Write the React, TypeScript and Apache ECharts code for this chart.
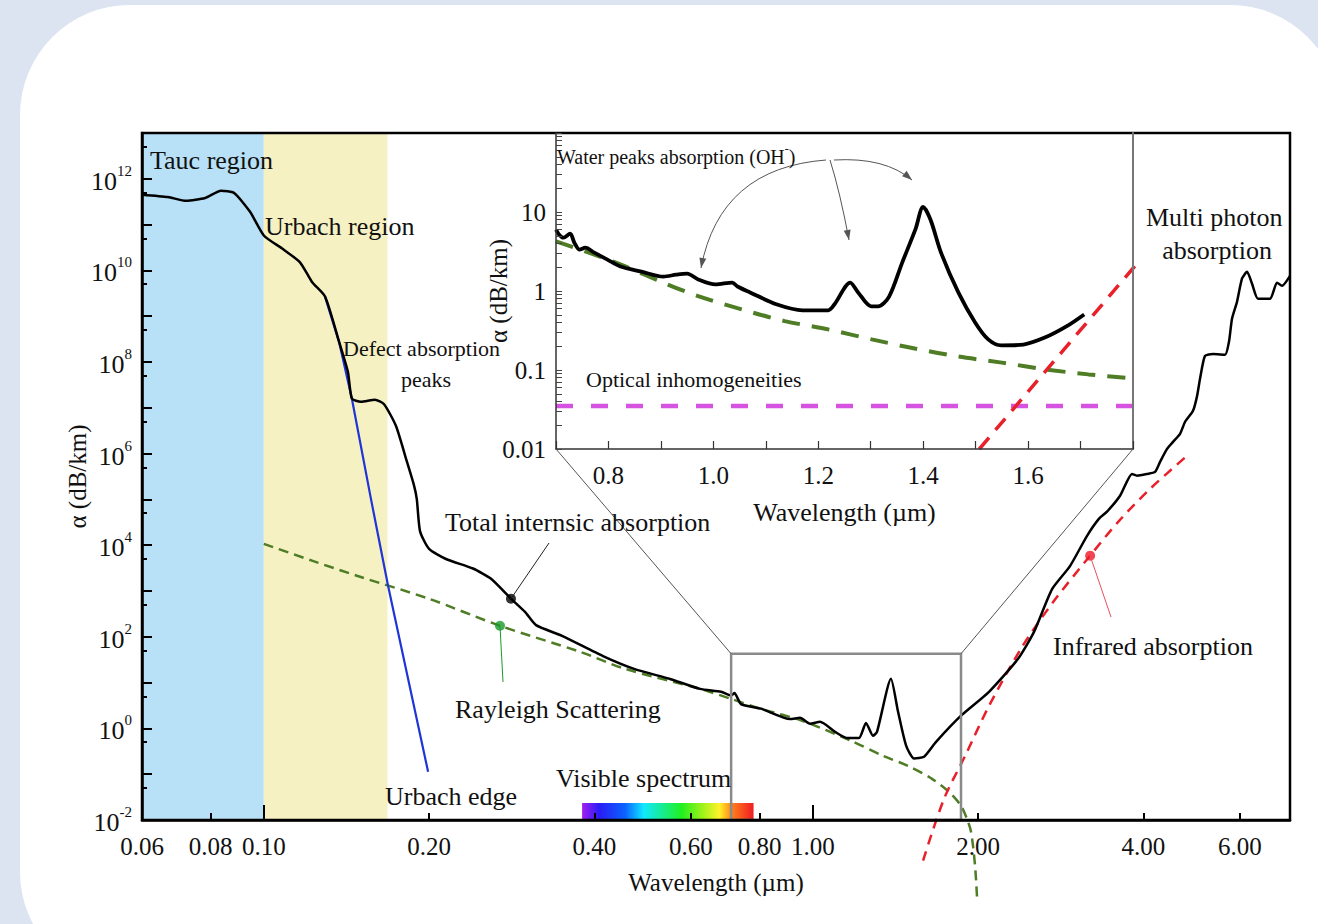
import React, { useEffect, useRef } from "react";
import * as echarts from "echarts";

const FONT = "'Liberation Serif', 'Times New Roman', Times, serif";
const INK = "#111111";

// ---------------- main panel (wavelength in µm, attenuation α in dB/km) ----------------
const totalWavelength = [
  0.06, 0.0669, 0.0722, 0.0782, 0.0836, 0.0883, 0.0944, 0.1001, 0.108, 0.1164, 0.1224, 0.1293,
  0.1371, 0.1423, 0.1447, 0.1503, 0.1594, 0.1656, 0.1741, 0.1823, 0.1878, 0.19, 0.1926, 0.2,
  0.2147, 0.2404, 0.2594, 0.282, 0.2991, 0.3132, 0.3493, 0.4148, 0.4725, 0.5495, 0.6231, 0.6806,
  0.71, 0.72, 0.7401, 0.8049, 0.9089, 0.9478, 0.9886, 1.031, 1.098, 1.154, 1.214, 1.25, 1.287,
  1.309, 1.388, 1.43, 1.479, 1.529, 1.594, 1.677, 1.862, 2.094, 2.365, 2.529, 2.728, 2.941,
  3.159, 3.322, 3.435, 3.628, 3.815, 3.896, 4.063, 4.202, 4.291, 4.418, 4.531, 4.666, 4.764,
  4.927, 5.011, 5.074, 5.181, 5.358, 5.635, 5.73, 5.802, 5.925, 6.05, 6.18, 6.311, 6.471, 6.804,
  7.007, 7.156, 7.4,
];
const totalAlpha = [
  4.5e11, 4.0e11, 3.3e11, 3.8e11, 5.5e11, 4.9e11, 1.9e11, 5.7e10, 3.0e10, 1.5e10, 5.6e9, 2.7e9,
  2.8e8, 6.1e7, 1.6e7, 1.35e7, 1.5e7, 1.2e7, 4.0e6, 6.6e5, 2.0e5, 1.0e5, 2.0e4, 8.3e3,
  5.0e3, 3.1e3, 1.85e3, 6.8e2, 3.5e2, 1.8e2, 1.05e2, 38, 20, 12, 7.3, 6.3,
  5.2, 5.9, 3.4, 2.7, 1.6, 1.7, 1.26, 1.39, 0.84, 0.62, 0.62, 1.32, 0.69,
  0.84, 12.1, 2.3, 0.42, 0.22, 0.24, 0.51, 1.9, 6.3, 33, 128, 1.1e3, 3.5e3,
  1.6e4, 3.8e4, 5.4e4, 1.2e5, 3.6e5, 3.3e5, 3.6e5, 4.0e5, 6.6e5, 1.27e6, 1.8e6, 2.7e6, 4.9e6,
  8.6e6, 1.8e7, 4.3e7, 1.36e8, 1.5e8, 1.44e8, 2.8e8, 8.8e8, 2.06e9, 6.6e9, 9.3e9, 5.1e9, 2.4e9, 2.4e9,
  5.4e9, 4.6e9, 7.6e9,
];

const urbachWavelength = [0.1293, 0.1371, 0.1447, 0.1568, 0.1684, 0.1992];
const urbachAlpha = [2.65e9, 2.76e8, 1.57e7, 1.0e5, 1.3e3, 0.113];

const rayleighWavelength = [
  0.1, 0.1224, 0.1478, 0.2, 0.2693, 0.3767, 0.455, 0.6231, 0.71, 0.8049, 0.956, 1.174, 1.342,
  1.491, 1.649, 1.771, 1.862, 1.909, 1.942, 1.975, 1.992,
];
const rayleighAlpha = [
  1.07e4, 4.6e3, 2.15e3, 676, 174, 47, 20, 7.3, 4.4, 2.68, 1.47, 0.536, 0.252,
  0.152, 0.079, 0.041, 0.0204, 0.0106, 0.0055, 0.001, 1.9e-4,
];

const infraredWavelength = [1.588, 1.734, 1.894, 2.094, 2.405, 2.751, 3.2, 3.613, 4.115, 4.806];
const infraredAlpha = [1.3e-3, 0.029, 0.25, 3.1, 60, 611, 5.9e3, 3.4e4, 1.7e5, 9.0e5];

// marked points on the curves: [wavelength, alpha]
const totalDot = [0.282, 680];
const rayleighDot = [0.2693, 174];
const infraredDot = [3.2, 5.9e3];

// shaded regions and spectrum band (µm)
const taucRegion = [0.06, 0.1];
const urbachRegion = [0.1, 0.168];
const visibleBand = [0.38, 0.78];
// zoom box in the main panel: wavelength span and top alpha
const zoomBox = [0.71, 1.862];
const zoomBoxTop = 42.6;

// axis ticks
const xTickValues = [0.06, 0.08, 0.1, 0.2, 0.4, 0.6, 0.8, 1, 2, 4, 6];
const xLongTicks = [0.1, 1];
const xShortTicks = [0.08, 0.2, 0.4, 0.6, 0.8, 2, 4, 6];
const yLabelExponents = [-2, 0, 2, 4, 6, 8, 10, 12];
const yDecadeExponents = [-2, -1, 0, 1, 2, 3, 4, 5, 6, 7, 8, 9, 10, 11, 12, 13];
const X_MIN = 0.06;
const X_MAX = 7.4;

// ---------------- inset (water peaks) ----------------
const insetWavelength = [
  0.7, 0.706, 0.714, 0.727, 0.735, 0.745, 0.756, 0.773, 0.798, 0.823, 0.863, 0.905, 0.929, 0.95,
  0.971, 1.004, 1.036, 1.046, 1.07, 1.12, 1.17, 1.219, 1.231, 1.261, 1.276, 1.301, 1.314, 1.335,
  1.36, 1.385, 1.4, 1.414, 1.434, 1.467, 1.499, 1.524, 1.549, 1.591, 1.633, 1.673, 1.707,
];
const insetAlpha = [
  5.97, 5.16, 4.73, 5.32, 4.09, 3.34, 3.54, 3.06, 2.5, 2.04, 1.76, 1.52, 1.61, 1.66,
  1.4, 1.21, 1.28, 1.14, 0.96, 0.68, 0.57, 0.57, 0.68, 1.28, 0.96, 0.64, 0.64, 0.85,
  2.29, 5.97, 11.6, 7.98, 3.06, 0.96, 0.4, 0.244, 0.205, 0.21, 0.259, 0.356, 0.505,
];
const insetRayleighWavelength = [
  0.7, 0.764, 0.831, 0.905, 0.971, 1.054, 1.136, 1.219, 1.302, 1.384, 1.467, 1.55, 1.632, 1.715, 1.8,
];
const insetRayleighAlpha = [
  4.25, 3.03, 2.06, 1.27, 0.86, 0.585, 0.416, 0.327, 0.244, 0.187, 0.148, 0.124, 0.102, 0.088, 0.078,
];
const inhomWavelength = [0.7, 1.8];
const inhomAlpha = [0.035, 0.035];
const insetIrWavelength = [1.507, 1.806];
const insetIrAlpha = [0.01, 2.16];

const insetXLabels = [0.8, 1.0, 1.2, 1.4, 1.6];
const insetYLabelExponents = [-2, -1, 0, 1];
const INSET_X_MIN = 0.7;
const INSET_X_MAX = 1.8;

const lg = Math.log10;
const logPairs = (xs: number[], ys: number[]) => xs.map((x, i) => [lg(x), lg(ys[i])]);
const linLogPairs = (xs: number[], ys: number[]) => xs.map((x, i) => [x, lg(ys[i])]);

const insetMinorTicks: number[] = [];
for (let e = -2; e <= 1; e++) {
  for (let k = 1; k <= 9; k++) insetMinorTicks.push(e + lg(k));
}
insetMinorTicks.push(2);

function buildOption(): any {
  const axisBlack = { color: "#000", width: 2.5 };
  return {
    animation: false,
    backgroundColor: "transparent",
    grid: [
      { left: 142, top: 133, width: 1148, height: 687, show: true, borderColor: "#000", borderWidth: 2.5, backgroundColor: "transparent", z: 6 },
      { left: 556, top: 133, width: 577, height: 316, show: false },
    ],
    xAxis: [
      {
        type: "value", gridIndex: 0, position: "bottom", min: lg(X_MIN), max: lg(X_MAX), z: 6,
        axisLine: { show: true, onZero: false, lineStyle: axisBlack },
        axisTick: { show: true, inside: true, length: 7, customValues: xShortTicks.map(lg), lineStyle: { color: "#000", width: 2 } },
        axisLabel: {
          customValues: xTickValues.map(lg), margin: 14, fontSize: 25, fontFamily: FONT, color: INK,
          formatter: (v: number) => Math.pow(10, v).toFixed(2),
        },
        splitLine: { show: false },
        name: "Wavelength (µm)", nameLocation: "middle", nameGap: 50, nameMoveOverlap: false,
        nameTextStyle: { fontSize: 25, fontFamily: FONT, color: INK },
      },
      {
        type: "value", gridIndex: 0, position: "bottom", min: lg(X_MIN), max: lg(X_MAX), z: 6,
        axisLine: { show: false, onZero: false },
        axisTick: { show: true, inside: true, length: 15, customValues: xLongTicks.map(lg), lineStyle: { color: "#000", width: 2 } },
        axisLabel: { show: false },
        splitLine: { show: false },
      },
      {
        type: "value", gridIndex: 1, position: "bottom", min: INSET_X_MIN, max: INSET_X_MAX, interval: 0.1, z: 6,
        axisLine: { show: true, onZero: false, lineStyle: { color: "#333", width: 1.5 } },
        axisTick: { show: true, inside: true, length: 8, lineStyle: { color: "#333", width: 1.2 } },
        axisLabel: {
          customValues: insetXLabels, margin: 14, fontSize: 25, fontFamily: FONT, color: INK,
          formatter: (v: number) => v.toFixed(1),
        },
        splitLine: { show: false },
        name: "Wavelength (µm)", nameLocation: "middle", nameGap: 50, nameMoveOverlap: false,
        nameTextStyle: { fontSize: 26, fontFamily: FONT, color: INK },
      },
    ],
    yAxis: [
      {
        type: "value", gridIndex: 0, position: "left", min: -2, max: 13, z: 6,
        axisLine: { show: true, onZero: false, lineStyle: axisBlack },
        axisTick: { show: true, inside: true, length: 10, customValues: yDecadeExponents, lineStyle: { color: "#000", width: 2 } },
        axisLabel: {
          customValues: yLabelExponents, margin: 10, color: INK,
          formatter: (v: number) => `{b|10}{s|${Math.round(v)}}`,
          rich: {
            b: { fontSize: 26, fontFamily: FONT, color: INK, lineHeight: 31, verticalAlign: "bottom" },
            s: { fontSize: 15, fontFamily: FONT, color: INK, lineHeight: 15, verticalAlign: "top" },
          },
        },
        splitLine: { show: false },
        name: "α (dB/km)", nameLocation: "middle", nameGap: 52, nameMoveOverlap: false,
        nameTextStyle: { fontSize: 25, fontFamily: FONT, color: INK },
      },
      {
        type: "value", gridIndex: 0, position: "left", min: -2, max: 13, z: 6,
        axisLine: { show: false, onZero: false },
        axisTick: { show: true, inside: true, length: 5, customValues: yDecadeExponents.slice(0, -1).map((e) => e + lg(5)), lineStyle: { color: "#000", width: 2 } },
        axisLabel: { show: false },
        splitLine: { show: false },
      },
      {
        type: "value", gridIndex: 1, position: "left", min: -2, max: 2, z: 6,
        axisLine: { show: true, onZero: false, lineStyle: { color: "#333", width: 1.5 } },
        axisTick: { show: true, inside: true, length: 6, customValues: insetMinorTicks, lineStyle: { color: "#444", width: 1 } },
        axisLabel: {
          customValues: insetYLabelExponents, margin: 10, fontSize: 25, fontFamily: FONT, color: INK,
          formatter: (v: number) => String(Math.pow(10, Math.round(v))),
        },
        splitLine: { show: false },
        name: "α (dB/km)", nameLocation: "middle", nameGap: 45, nameMoveOverlap: false,
        nameTextStyle: { fontSize: 25, fontFamily: FONT, color: INK },
      },
      {
        type: "value", gridIndex: 1, position: "right", min: -2, max: 2, z: 6,
        axisLine: { show: true, onZero: false, lineStyle: { color: "#777", width: 2 } },
        axisTick: { show: false }, axisLabel: { show: false }, splitLine: { show: false },
      },
    ],
    series: [
      {
        type: "line", xAxisIndex: 0, yAxisIndex: 0, data: [[lg(X_MIN), -2]], symbol: "none",
        lineStyle: { width: 0 }, silent: true,
        markArea: {
          silent: true,
          data: [
            [{ xAxis: lg(taucRegion[0]), yAxis: -2, itemStyle: { color: "#b8e1f8" } }, { xAxis: lg(taucRegion[1]), yAxis: 13 }],
            [{ xAxis: lg(urbachRegion[0]), yAxis: -2, itemStyle: { color: "#f6f1c3" } }, { xAxis: lg(urbachRegion[1]), yAxis: 13 }],
          ],
        },
      },
      {
        type: "line", xAxisIndex: 0, yAxisIndex: 0, data: logPairs(rayleighWavelength, rayleighAlpha),
        symbol: "none", smooth: 0.3, clip: false, z: 2,
        lineStyle: { color: "#4e7d25", width: 2.5, type: [10, 6] },
      },
      {
        type: "line", xAxisIndex: 0, yAxisIndex: 0, data: logPairs(infraredWavelength, infraredAlpha),
        symbol: "none", smooth: 0.3, clip: false, z: 2,
        lineStyle: { color: "#e8202a", width: 2.5, type: [10, 7] },
      },
      {
        type: "line", xAxisIndex: 0, yAxisIndex: 0, data: logPairs(urbachWavelength, urbachAlpha),
        symbol: "none", z: 3,
        lineStyle: { color: "#1f35d8", width: 2.2 },
      },
      {
        type: "line", xAxisIndex: 0, yAxisIndex: 0, data: logPairs(totalWavelength, totalAlpha),
        symbol: "none", smooth: 0.2, z: 3,
        lineStyle: { color: "#000", width: 2.5 },
        markArea: {
          silent: true, z: 4,
          itemStyle: { color: "rgba(0,0,0,0)", borderColor: "#8a8a8a", borderWidth: 2.5 },
          data: [[{ xAxis: lg(zoomBox[0]), yAxis: lg(zoomBoxTop) }, { xAxis: lg(zoomBox[1]), yAxis: -2 }]],
        },
      },
      {
        type: "scatter", xAxisIndex: 0, yAxisIndex: 0, z: 5, symbolSize: 10,
        data: [
          { value: [lg(totalDot[0]), lg(totalDot[1])], itemStyle: { color: "#000" } },
          { value: [lg(rayleighDot[0]), lg(rayleighDot[1])], itemStyle: { color: "#1a9a2a" } },
          { value: [lg(infraredDot[0]), lg(infraredDot[1])], itemStyle: { color: "#f0182a" } },
        ],
      },
      // inset
      {
        type: "line", xAxisIndex: 2, yAxisIndex: 2, data: linLogPairs(insetRayleighWavelength, insetRayleighAlpha),
        symbol: "none", smooth: 0.3, z: 2,
        lineStyle: { color: "#4e7d25", width: 4, type: [18, 12] },
      },
      {
        type: "line", xAxisIndex: 2, yAxisIndex: 2, data: linLogPairs(inhomWavelength, inhomAlpha),
        symbol: "none", z: 2,
        lineStyle: { color: "#d653e2", width: 4.5, type: [17, 18] },
      },
      {
        type: "line", xAxisIndex: 2, yAxisIndex: 2, data: linLogPairs(insetIrWavelength, insetIrAlpha),
        symbol: "none", z: 2, clip: false,
        lineStyle: { color: "#e8202a", width: 3.5, type: [15, 10] },
      },
      {
        type: "line", xAxisIndex: 2, yAxisIndex: 2, data: linLogPairs(insetWavelength, insetAlpha),
        symbol: "none", smooth: 0.3, z: 3,
        lineStyle: { color: "#000", width: 3.8 },
      },
    ],
  };
}

function arrowHead(ex: number, ey: number, cx: number, cy: number, color: string) {
  const dx = ex - cx;
  const dy = ey - cy;
  const len = Math.sqrt(dx * dx + dy * dy) || 1;
  const ux = dx / len;
  const uy = dy / len;
  const bx = ex - ux * 10;
  const by = ey - uy * 10;
  return {
    type: "polygon", z: 10, silent: true,
    shape: { points: [[ex, ey], [bx - uy * 3.5, by + ux * 3.5], [bx + uy * 3.5, by - ux * 3.5]] },
    style: { fill: color },
  };
}

function text(label: string, x: number, y: number, size: number, align = "left") {
  return {
    type: "text", x, y, z: 10, silent: true,
    style: { text: label, fontSize: size, fontFamily: FONT, fill: INK, align, verticalAlign: "middle" },
  };
}

function line(a: number[], b: number[], color: string, width = 1) {
  return {
    type: "line", z: 9, silent: true,
    shape: { x1: a[0], y1: a[1], x2: b[0], y2: b[1] },
    style: { stroke: color, lineWidth: width },
  };
}

function buildGraphics(p0: (x: number, y: number) => number[], p1: (x: number, y: number) => number[]) {
  const els: any[] = [];
  // zoom connectors
  els.push(line(p1(INSET_X_MIN, -2), p0(lg(zoomBox[0]), lg(zoomBoxTop)), "#555", 1));
  els.push(line(p1(INSET_X_MAX, -2), p0(lg(zoomBox[1]), lg(zoomBoxTop)), "#555", 1));
  // visible spectrum band
  const a = p0(lg(visibleBand[0]), -2);
  const b = p0(lg(visibleBand[1]), -2);
  els.push({
    type: "rect", z: 1, silent: true,
    shape: { x: a[0], y: a[1] - 17, width: b[0] - a[0], height: 16 },
    style: {
      fill: new echarts.graphic.LinearGradient(0, 0, 1, 0, [
        { offset: 0, color: "#a21ff0" },
        { offset: 0.1, color: "#2a1cf5" },
        { offset: 0.25, color: "#0a62ff" },
        { offset: 0.36, color: "#10e8ff" },
        { offset: 0.58, color: "#20f020" },
        { offset: 0.7, color: "#9cf21a" },
        { offset: 0.8, color: "#fff22a" },
        { offset: 0.88, color: "#ff7a1a" },
        { offset: 1, color: "#ee1c24" },
      ]),
    },
  });
  // leaders from dots
  els.push(line(p0(lg(totalDot[0]), lg(totalDot[1])), [549, 543], "#222", 1));
  els.push(line(p0(lg(rayleighDot[0]), lg(rayleighDot[1])), [503, 682], "#1a9a2a", 1));
  els.push(line(p0(lg(infraredDot[0]), lg(infraredDot[1])), [1111, 617], "#e85060", 1));
  // water peak arrows
  const arrows = [
    [826, 160, 720, 168, 701, 268],
    [830, 160, 840, 192, 849, 240],
    [834, 160, 885, 157, 912, 180],
  ];
  arrows.forEach(([sx, sy, cx, cy, ex, ey]) => {
    els.push({
      type: "bezierCurve", z: 9, silent: true,
      shape: { x1: sx, y1: sy, cpx1: cx, cpy1: cy, x2: ex, y2: ey },
      style: { stroke: "#555", lineWidth: 1, fill: null },
    });
    els.push(arrowHead(ex, ey, cx, cy, "#555"));
  });
  // annotations
  els.push(text("Tauc region", 150, 160, 26));
  els.push(text("Urbach region", 265, 226, 26));
  els.push(text("Defect absorption", 343, 348, 22));
  els.push(text("peaks", 426, 379, 22, "center"));
  els.push(text("Total internsic absorption", 445, 522, 26));
  els.push(text("Rayleigh Scattering", 455, 709, 26));
  els.push(text("Urbach edge", 385, 796, 26));
  els.push(text("Visible spectrum", 556, 778, 26));
  els.push(text("Multi photon", 1146, 217, 26));
  els.push(text("absorption", 1217, 250, 26, "center"));
  els.push(text("Infrared absorption", 1053, 646, 26));
  els.push(text("Optical inhomogeneities", 586, 379, 22));
  els.push({
    type: "text", x: 557, y: 155, z: 10, silent: true,
    style: {
      text: "{m|Water peaks absorption (OH}{s|-}{m|)}",
      fontFamily: FONT, fill: INK, verticalAlign: "middle", align: "left",
      rich: {
        m: { fontSize: 20, fontFamily: FONT, fill: INK, lineHeight: 24, verticalAlign: "bottom" },
        s: { fontSize: 12, fontFamily: FONT, fill: INK, lineHeight: 12, verticalAlign: "top" },
      },
    },
  });
  return els;
}

export default function App() {
  const ref = useRef<HTMLDivElement>(null);
  useEffect(() => {
    const el = ref.current;
    if (!el) return;
    const chart = echarts.init(el, null, { renderer: "svg", width: 1318, height: 924 });
    chart.setOption(buildOption());
    const p0 = (x: number, y: number) => chart.convertToPixel({ gridIndex: 0 }, [x, y]) as number[];
    const p1 = (x: number, y: number) => chart.convertToPixel({ gridIndex: 1 }, [x, y]) as number[];
    chart.setOption({ graphic: { elements: buildGraphics(p0, p1) } });
    return () => chart.dispose();
  }, []);
  return (
    <div style={{ position: "fixed", left: 0, top: 0, width: 1318, height: 924, background: "#dce4f2", overflow: "hidden" }}>
      <div style={{ position: "absolute", left: 20, top: 5, width: 1320, height: 977, background: "#ffffff", borderRadius: 110 }} />
      <div ref={ref} style={{ position: "absolute", left: 0, top: 0, width: 1318, height: 924 }} />
    </div>
  );
}
